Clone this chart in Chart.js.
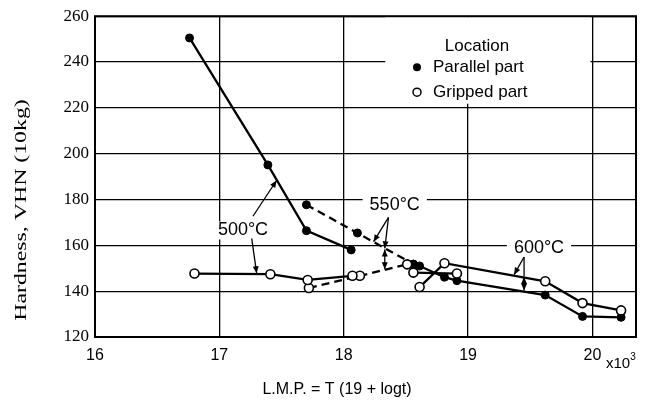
<!DOCTYPE html>
<html>
<head>
<meta charset="utf-8">
<script src="https://cdn.jsdelivr.net/npm/chart.js@4.4.1/dist/chart.umd.min.js"></script>
<style>
  html, body { margin: 0; padding: 0; background: #fff; }
</style>
</head>
<body>
<canvas id="chart" width="662" height="403"></canvas>
<script>
// axis ranges (L.M.P. in units of 10^3)
const xRange = [16, 20.35]
const yRange = [120, 260]

// parallel part (filled circles)
const parallel500 = [[16.76, 250.5], [17.39, 195.1], [17.70, 166.4], [18.06, 158.0]]
const parallel550 = [[17.70, 177.7], [18.11, 165.4], [18.56, 151.8]]
const parallel600 = [[18.56, 151.8], [18.61, 151.0], [18.81, 146.1], [18.91, 144.6], [19.62, 138.3], [19.92, 129.0], [20.23, 128.6]]

// gripped part (open circles)
const gripped500 = [[16.80, 147.7], [17.41, 147.4], [17.71, 144.9], [18.07, 146.7]]
const gripped550 = [[17.72, 141.4], [18.13, 146.7], [18.51, 151.7]]
const gripped600 = [[18.61, 141.8], [18.81, 152.2], [19.62, 144.3], [19.92, 134.8], [20.23, 131.6]]
const gripped600b = [[18.56, 148.1], [18.91, 147.7]]

// temperature labels and their pointers (data units)
const tempLabels = [
    { text: '500°C', x: 17.19, y: 166.5 },
    { text: '550°C', x: 18.41, y: 177.7 },
    { text: '600°C', x: 19.57, y: 158.8 },
]
const pointers = [
    // [x1, y1, x2, y2, head at start, head at end]
    [17.27, 172.7, 17.46, 188.3, false, true],
    [17.26, 163.0, 17.30, 147.8, false, true],
    [18.36, 172.2, 18.24, 161.6, false, true],
    [18.36, 172.2, 18.33, 158.7, false, true],
    [18.33, 158.2, 18.33, 149.6, true, true],
    [19.45, 154.9, 19.37, 147.2, false, true],
    [19.45, 154.9, 19.45, 146.4, false, false],
    [19.45, 146.2, 19.45, 140.3, true, true],
]

const toPts = (arr) => arr.map(([x, y]) => ({ x, y }))

const filled = {
    pointRadius: 4,
    pointBackgroundColor: '#000',
    pointBorderColor: '#000',
    pointBorderWidth: 1,
}
const open = {
    pointRadius: 4.5,
    pointBackgroundColor: '#fff',
    pointBorderColor: '#000',
    pointBorderWidth: 1.6,
}
const solid = { showLine: true, borderColor: '#000', borderWidth: 2.3 }
const dashed = { showLine: true, borderColor: '#000', borderWidth: 2.3, borderDash: [8, 5] }

const sansFont = "'Liberation Sans', Arial, sans-serif"
const serifFont = "'Liberation Serif', 'Times New Roman', serif"

function drawArrow(ctx, x1, y1, x2, y2, headStart, headEnd) {
    ctx.beginPath()
    ctx.moveTo(x1, y1)
    ctx.lineTo(x2, y2)
    ctx.stroke()
    const head = (xa, ya, xb, yb) => {
        const a = Math.atan2(yb - ya, xb - xa)
        const len = 7, w = 3
        ctx.beginPath()
        ctx.moveTo(xb, yb)
        ctx.lineTo(xb - len * Math.cos(a) + w * Math.sin(a), yb - len * Math.sin(a) - w * Math.cos(a))
        ctx.lineTo(xb - len * Math.cos(a) - w * Math.sin(a), yb - len * Math.sin(a) + w * Math.cos(a))
        ctx.closePath()
        ctx.fill()
    }
    if (headEnd) head(x1, y1, x2, y2)
    if (headStart) head(x2, y2, x1, y1)
}

const decor = {
    id: 'decor',
    beforeDatasetsDraw(chart) {
        const { ctx, chartArea: a, scales: { x, y } } = chart
        ctx.save()
        ctx.fillStyle = '#fff'
        // legend box hides the grid behind it
        ctx.fillRect(x.getPixelForValue(18.334), a.top + 1, x.getPixelForValue(19.984) - x.getPixelForValue(18.334), y.getPixelForValue(221.8) - a.top - 1)
        // label backgrounds
        ctx.font = `18px ${sansFont}`
        tempLabels.forEach((t) => {
            const w = ctx.measureText(t.text).width + 14
            ctx.fillRect(x.getPixelForValue(t.x) - w / 2, y.getPixelForValue(t.y) - 9, w, 18)
        })
        // frame
        ctx.strokeStyle = '#000'
        ctx.lineWidth = 2
        ctx.strokeRect(a.left, a.top, a.right - a.left, a.bottom - a.top)
        ctx.restore()
    },
    afterDatasetsDraw(chart) {
        const { ctx, chartArea: a, scales: { x, y } } = chart
        ctx.save()
        ctx.fillStyle = '#000'
        ctx.strokeStyle = '#000'
        ctx.lineWidth = 1.3

        // temperature labels
        ctx.font = `18px ${sansFont}`
        ctx.textAlign = 'center'
        ctx.textBaseline = 'middle'
        tempLabels.forEach((t) => ctx.fillText(t.text, x.getPixelForValue(t.x), y.getPixelForValue(t.y)))
        pointers.forEach(([x1, y1, x2, y2, hs, he]) => {
            drawArrow(ctx, x.getPixelForValue(x1), y.getPixelForValue(y1), x.getPixelForValue(x2), y.getPixelForValue(y2), hs, he)
        })

        // legend
        const lx = a.left + 322
        ctx.font = `17px ${sansFont}`
        ctx.fillText('Location', a.left + 382, a.top + 30)
        ctx.textAlign = 'left'
        ctx.fillText('Parallel part', lx + 16, a.top + 51)
        ctx.fillText('Gripped part', lx + 16, a.top + 76)
        ctx.beginPath()
        ctx.arc(lx, a.top + 51, 4, 0, Math.PI * 2)
        ctx.fill()
        ctx.beginPath()
        ctx.arc(lx, a.top + 76, 4, 0, Math.PI * 2)
        ctx.lineWidth = 1.5
        ctx.stroke()

        // axis titles
        ctx.textAlign = 'center'
        ctx.font = `16px ${sansFont}`
        ctx.fillText('L.M.P. = T (19 + logt)', 337, 390)
        ctx.font = `15px ${sansFont}`
        ctx.fillText('x10', 618, 364)
        ctx.font = `10px ${sansFont}`
        ctx.fillText('3', 633, 357)

        ctx.translate(22, 210)
        ctx.rotate(-Math.PI / 2)
        ctx.scale(1.4, 1)
        ctx.font = `17px ${serifFont}`
        ctx.fillText('Hardness, VHN (10kg)', 0, 0)
        ctx.restore()
    },
}

new Chart(document.getElementById('chart'), {
    type: 'scatter',
    data: {
        datasets: [
            { label: 'Gripped 500', data: toPts(gripped500), ...solid, ...open },
            { label: 'Gripped 550', data: toPts(gripped550), ...dashed, ...open },
            { label: 'Gripped 600', data: toPts(gripped600), ...solid, ...open },
            { label: 'Gripped 600b', data: toPts(gripped600b), ...solid, ...open },
            { label: 'Parallel 500', data: toPts(parallel500), ...solid, ...filled },
            { label: 'Parallel 550', data: toPts(parallel550), ...dashed, ...filled },
            { label: 'Parallel 600', data: toPts(parallel600), ...solid, ...filled },
        ],
    },
    options: {
        responsive: false,
        animation: false,
        devicePixelRatio: 1,
        layout: { padding: { left: 0, right: 26, top: 12, bottom: 0 } },
        plugins: { legend: { display: false }, tooltip: { enabled: false } },
        scales: {
            x: {
                type: 'linear',
                min: xRange[0],
                max: xRange[1],
                afterFit: (s) => { s.height = 66 },
                border: { display: false },
                grid: { color: '#000', lineWidth: 1.3, drawTicks: false },
                ticks: {
                    stepSize: 1,
                    includeBounds: false,
                    padding: 9,
                    color: '#000',
                    font: { family: sansFont, size: 16 },
                    callback: (v) => v,
                },
            },
            y: {
                min: yRange[0],
                max: yRange[1],
                afterFit: (s) => { s.width = 95 },
                border: { display: false },
                grid: { color: '#000', lineWidth: 1.3, drawTicks: false },
                ticks: {
                    stepSize: 20,
                    padding: 6,
                    color: '#000',
                    font: { family: serifFont, size: 17 },
                },
            },
        },
    },
    plugins: [decor],
})
</script>
</body>
</html>
